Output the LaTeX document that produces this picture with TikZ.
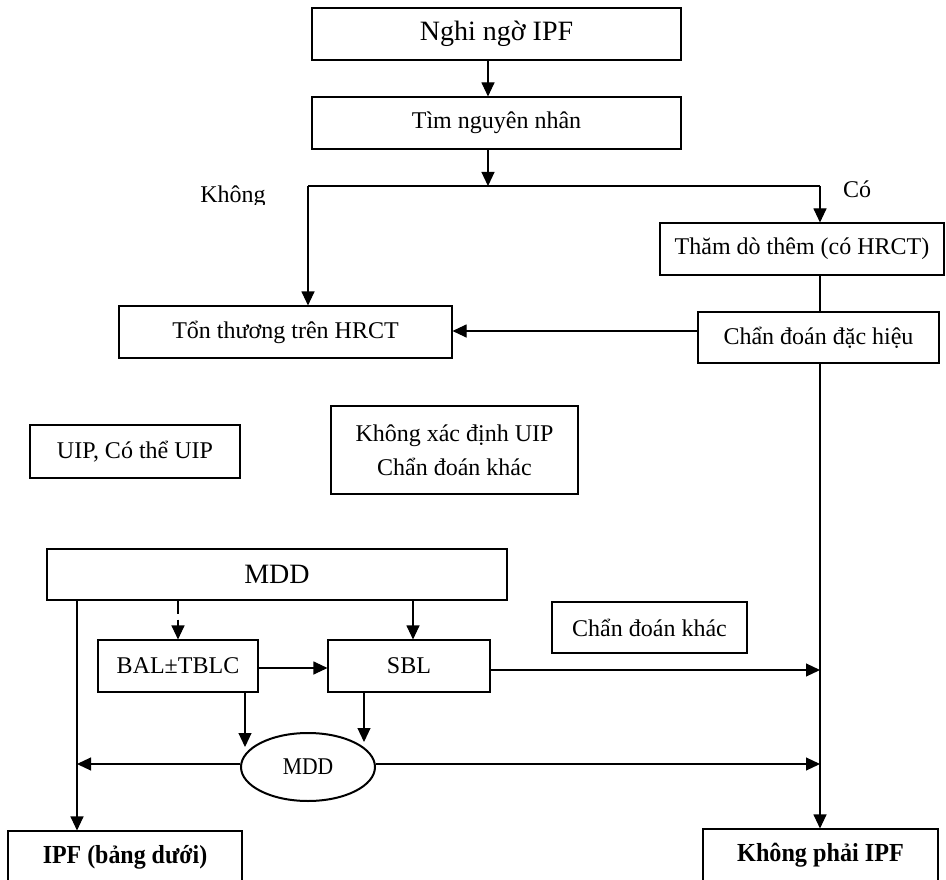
\documentclass[tikz,border=0pt]{standalone}
\usepackage{fontspec}
\setmainfont{Liberation Serif}
\usetikzlibrary{arrows.meta,shapes.geometric}

\tikzset{
  box/.style={draw, rectangle, inner sep=0pt, align=center,
    font=\fontsize{24}{34}\selectfont},
  bigtxt/.style={font=\fontsize{28}{34}\selectfont},
  arr/.style={-{Triangle[length=14pt,width=13pt]}},
  lbl/.style={inner sep=0pt, anchor=base, font=\fontsize{24}{28}\selectfont},
  endtxt/.style={font=\fontsize{26}{30}\selectfont\bfseries},
}

\begin{document}
\begin{tikzpicture}[x=1pt, y=-1pt, line width=1.1pt, line join=miter]
\useasboundingbox (0,0) rectangle (946,880);

% main boxes
\node[box, bigtxt, minimum width=369pt, minimum height=52pt] (suspect) at (496.5,34) {Nghi ngờ IPF};
\node[box, minimum width=369pt, minimum height=52pt] (cause) at (496.5,123) {Tìm nguyên nhân};
\node[box, minimum width=333pt, minimum height=52pt] (hrct) at (285.5,332) {Tổn thương trên HRCT};
\node[box, minimum width=284pt, minimum height=52pt] (explore) at (802,249) {Thăm dò thêm (có HRCT)};
\node[box, minimum width=241pt, minimum height=51pt] (specific) at (818.5,337.5) {Chẩn đoán đặc hiệu};
\node[box, minimum width=210pt, minimum height=53pt] (uip) at (135,451.5) {UIP, Có thể UIP};
\node[box, minimum width=247pt, minimum height=88pt] (undet) at (454.5,450) {Không xác định UIP\\Chẩn đoán khác};
\node[box, bigtxt, minimum width=460pt, minimum height=51pt] (mdd) at (277,574.5) {MDD};
\node[box, minimum width=160pt, minimum height=52pt] (bal) at (178,666) {BAL±TBLC};
\node[box, minimum width=162pt, minimum height=52pt] (sbl) at (409,666) {SBL};
\node[box, minimum width=195pt, minimum height=51pt] (other) at (649.5,627.5) {Chẩn đoán khác};
\node[draw, ellipse, line width=2pt, inner sep=0pt, minimum width=134pt, minimum height=68pt,
  font=\fontsize{24}{28}\selectfont] (mdd2) at (308,767) {\scalebox{0.9}[1]{MDD}};
\node[box, minimum width=234pt, minimum height=52pt] (ipf) at (125,857)
  {\scalebox{0.92}[1]{\fontsize{26}{30}\selectfont\bfseries IPF (bảng dưới)}};
\node[box, minimum width=235pt, minimum height=52pt] (notipf) at (820.5,855)
  {\scalebox{0.93}[1]{\fontsize{26}{30}\selectfont\bfseries Không phải IPF}};

% branch labels
\begin{scope}
  \clip (150,170) rectangle (300,205);
  \node[lbl] (no) at (233,203) {Không};
\end{scope}
\node[lbl] (yes) at (857,198) {Có};

% junction points
\coordinate (split) at (488,186);
\coordinate (splitL) at (308,186);
\coordinate (splitR) at (820,186);
\coordinate (trunkA) at (820,670);
\coordinate (trunkB) at (820,764);
\coordinate (balTip) at (245,747);
\coordinate (sblTip) at (364,742);
\coordinate (leftB) at (77,764);

% top flow
\draw[arr] (suspect.south -| split) -- (cause.north -| split);
\draw[arr] (cause.south -| split) -- (split);
\draw (splitL) -- (splitR);
\draw[arr] (splitL) -- (hrct.north -| splitL);
\draw[arr] (splitR) -- (explore.north -| splitR);
\draw (explore.south -| splitR) -- (specific.north -| splitR);
\draw[arr] (specific.west |- 0,331) -- (hrct.east |- 0,331);
\draw[arr] (specific.south -| splitR) -- (notipf.north -| splitR);

% MDD block
\draw[arr] (mdd.south -| leftB) -- (ipf.north -| leftB);
\draw[arr, dash pattern=on 13pt off 6pt] (mdd.south -| bal.north) -- (bal.north);
\draw[arr] (mdd.south -| 413,0) -- (sbl.north -| 413,0);
\draw[arr] (bal.east |- 0,668) -- (sbl.west |- 0,668);
\draw[arr] (sbl.east |- trunkA) -- (trunkA);
\draw[arr] (bal.south -| balTip) -- (balTip);
\draw[arr] (sbl.south -| sblTip) -- (sblTip);
\draw[arr] (mdd2.west |- leftB) -- (leftB);
\draw[arr] (mdd2.east |- trunkB) -- (trunkB);
\end{tikzpicture}
\end{document}
